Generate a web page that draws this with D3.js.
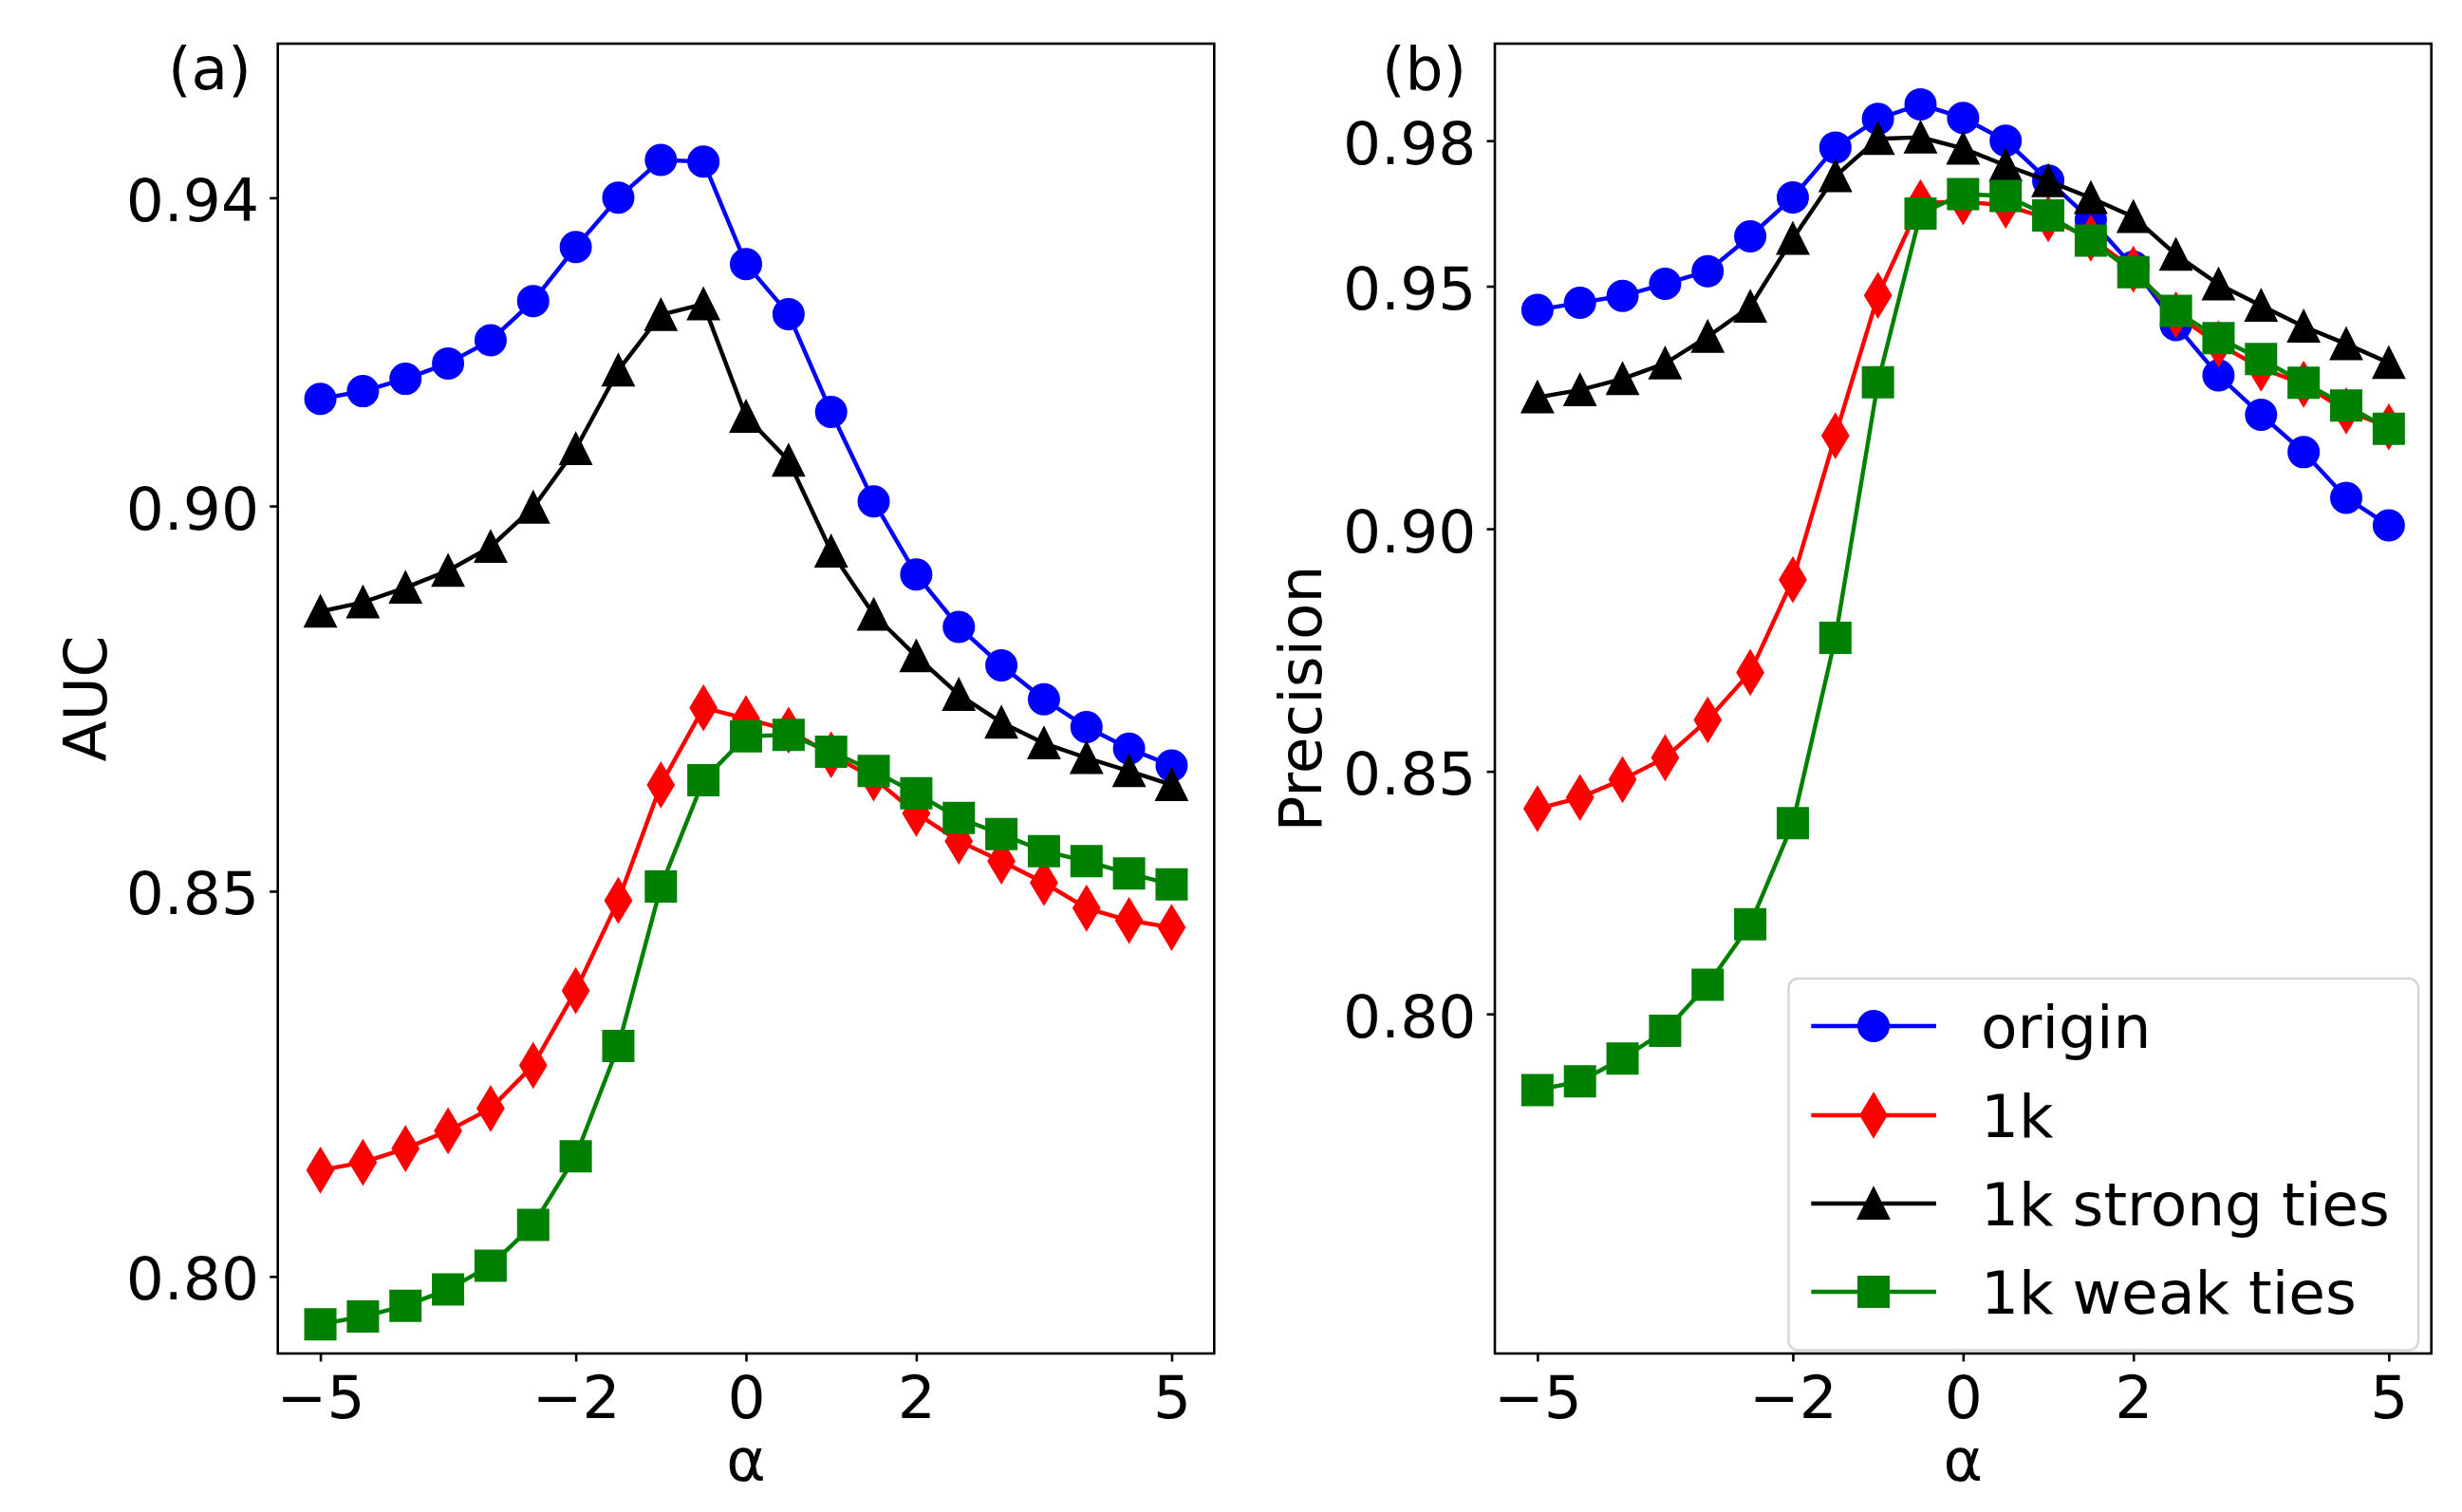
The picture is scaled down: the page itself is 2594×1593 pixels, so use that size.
<!DOCTYPE html>
<html>
<head>
<meta charset="utf-8">
<script src="https://cdn.jsdelivr.net/npm/d3@7"></script>
<style>
  html, body { margin: 0; padding: 0; background: #fff; }
  svg { display: block; }
  text { font-family: "DejaVu Sans", sans-serif; fill: #000; }
</style>
</head>
<body>
<svg id="chart" width="2594" height="1593"></svg>
<script>
// ---------------- data ----------------
const alphas = [-5, -4.5, -4, -3.5, -3, -2.5, -2, -1.5, -1, -0.5, 0, 0.5, 1, 1.5, 2, 2.5, 3, 3.5, 4, 4.5, 5];

const seriesNames = ["origin", "1k", "1k strong ties", "1k weak ties"];

const aucOrigin = [0.9139, 0.9149, 0.9165, 0.9185, 0.9215, 0.9266, 0.9336, 0.9400, 0.9449, 0.9447, 0.9314, 0.9249, 0.9122, 0.9006, 0.8911, 0.8843, 0.8793, 0.8749, 0.8713, 0.8685, 0.8663];
const auc1k = [0.8138, 0.8148, 0.8166, 0.8189, 0.8218, 0.8274, 0.8371, 0.8488, 0.8638, 0.8738, 0.8724, 0.8709, 0.8677, 0.8647, 0.8601, 0.8565, 0.8539, 0.8511, 0.8478, 0.8462, 0.8453];
const aucStrong = [0.8863, 0.8875, 0.8894, 0.8916, 0.8947, 0.8998, 0.9074, 0.9176, 0.9248, 0.9262, 0.9116, 0.9059, 0.8941, 0.8859, 0.8805, 0.8755, 0.8719, 0.8692, 0.8673, 0.8656, 0.8638];
const aucWeak = [0.7938, 0.7948, 0.7962, 0.7983, 0.8014, 0.8067, 0.8156, 0.8299, 0.8506, 0.8644, 0.8701, 0.8703, 0.8681, 0.8656, 0.8627, 0.8595, 0.8574, 0.8552, 0.8539, 0.8523, 0.8509];

const precOrigin = [0.9451, 0.9466, 0.9480, 0.9505, 0.9531, 0.9603, 0.9683, 0.9786, 0.9845, 0.9875, 0.9847, 0.9800, 0.9718, 0.9637, 0.9540, 0.9420, 0.9316, 0.9235, 0.9158, 0.9064, 0.9007];
const prec1k = [0.8423, 0.8446, 0.8483, 0.8528, 0.8606, 0.8704, 0.8895, 0.9192, 0.9481, 0.9672, 0.9674, 0.9667, 0.9639, 0.9599, 0.9535, 0.9441, 0.9381, 0.9331, 0.9298, 0.9243, 0.9210];
const precStrong = [0.9271, 0.9286, 0.9309, 0.9341, 0.9396, 0.9458, 0.9598, 0.9727, 0.9804, 0.9807, 0.9784, 0.9749, 0.9717, 0.9682, 0.9643, 0.9565, 0.9504, 0.9460, 0.9417, 0.9381, 0.9342];
const precWeak = [0.7843, 0.7861, 0.7908, 0.7965, 0.8060, 0.8185, 0.8393, 0.8775, 0.9302, 0.9650, 0.9690, 0.9686, 0.9646, 0.9594, 0.9529, 0.9449, 0.9393, 0.9350, 0.9301, 0.9254, 0.9206];

const xTicks = [-5, -2, 0, 2, 5];
const aucTicks = [0.80, 0.85, 0.90, 0.94];
const precTicks = [0.80, 0.85, 0.90, 0.95, 0.98];

// ---------------- styling ----------------
const colors = ["#0000ff", "#ff0000", "#000000", "#008000"];
const markers = ["circle", "thin_diamond", "triangle", "square"];
const MS = 31;          // marker size (px)
const MEW = 3;          // marker edge width
const LW = 4.4;         // line width
const FS = 63;          // font size
const FRAME_W = 2.6;
const TICK_LEN = 8.5;

function markerPath(kind, ms) {
  const h = ms / 2;
  if (kind === "circle") {
    return d3.symbol().type(d3.symbolCircle).size(Math.PI * h * h)();
  }
  if (kind === "square") {
    return `M${-h},${-h}L${h},${-h}L${h},${h}L${-h},${h}Z`;
  }
  if (kind === "triangle") {
    return `M0,${-h}L${h},${h}L${-h},${h}Z`;
  }
  if (kind === "thin_diamond") {
    const dy = ms * Math.SQRT1_2, dx = dy * 0.6;
    return `M0,${-dy}L${dx},0L0,${dy}L${-dx},0Z`;
  }
}

const svg = d3.select("#chart");

const panels = [
  { label: "(a)", ylabel: "AUC", series: [aucOrigin, auc1k, aucStrong, aucWeak],
    left: 292.7, right: 1279.3, yDomain: [0.79, 0.96], yTicks: aucTicks, ylabelX: 112, tagX: 177 },
  { label: "(b)", ylabel: "Precision", series: [precOrigin, prec1k, precStrong, precWeak],
    left: 1575, right: 2561.7, yDomain: [0.73, 1.0], yTicks: precTicks, ylabelX: 1392, tagX: 1456, legend: true }
];
const TOP = 46, BOTTOM = 1426;

panels.forEach(p => {
  const x = d3.scaleLinear().domain([-5.5, 5.5]).range([p.left, p.right]);
  const y = d3.scaleLinear().domain(p.yDomain).range([BOTTOM, TOP]);
  const g = svg.append("g");

  const clipId = "clip" + p.label.replace(/\W/g, "");
  svg.append("clipPath").attr("id", clipId).append("rect")
    .attr("x", p.left).attr("y", TOP).attr("width", p.right - p.left).attr("height", BOTTOM - TOP);

  const plot = g.append("g").attr("clip-path", `url(#${clipId})`);
  const line = d3.line().x((d, i) => x(alphas[i])).y(d => y(d));

  p.series.forEach((vals, si) => {
    const sg = plot.append("g");
    sg.append("path").datum(vals)
      .attr("d", line)
      .attr("fill", "none")
      .attr("stroke", colors[si])
      .attr("stroke-width", LW)
      .attr("stroke-linejoin", "round")
      .attr("stroke-linecap", "butt");
    sg.selectAll("path.m").data(vals).enter().append("path")
      .attr("class", "m")
      .attr("d", markerPath(markers[si], MS))
      .attr("transform", (d, i) => `translate(${x(alphas[i])},${y(d)})`)
      .attr("fill", colors[si])
      .attr("stroke", colors[si])
      .attr("stroke-width", MEW)
      .attr("stroke-linejoin", "miter");
  });

  // axes
  const xAxis = d3.axisBottom(x).tickValues(xTicks).tickSize(TICK_LEN).tickPadding(11)
    .tickFormat(d => d3.format("d")(d).replace("-", "\u2212"));
  const gx = g.append("g").attr("transform", `translate(0,${BOTTOM})`).call(xAxis);
  gx.select(".domain").remove();
  gx.selectAll(".tick line").attr("stroke", "#000").attr("stroke-width", FRAME_W);
  gx.selectAll(".tick text").attr("font-size", FS).attr("dy", null).attr("y", 68)
    .attr("font-family", "DejaVu Sans").attr("fill", "#000");

  const yAxis = d3.axisLeft(y).tickValues(p.yTicks).tickSize(TICK_LEN).tickPadding(11)
    .tickFormat(d3.format(".2f"));
  const gy = g.append("g").attr("transform", `translate(${p.left},0)`).call(yAxis);
  gy.select(".domain").remove();
  gy.selectAll(".tick line").attr("stroke", "#000").attr("stroke-width", FRAME_W);
  gy.selectAll(".tick text").attr("font-size", FS).attr("dy", null).attr("y", 24)
    .attr("x", -19.7)
    .attr("font-family", "DejaVu Sans").attr("fill", "#000");

  // frame
  g.append("rect").attr("x", p.left).attr("y", TOP)
    .attr("width", p.right - p.left).attr("height", BOTTOM - TOP)
    .attr("fill", "none").attr("stroke", "#000").attr("stroke-width", FRAME_W);

  // labels
  g.append("text").attr("x", (p.left + p.right) / 2).attr("y", 1560)
    .attr("text-anchor", "middle").attr("font-size", FS).text("\u03b1");
  g.append("text").attr("transform", `translate(${p.ylabelX},${(TOP + BOTTOM) / 2}) rotate(-90)`)
    .attr("text-anchor", "middle").attr("font-size", FS).text(p.ylabel);
  g.append("text").attr("x", p.tagX).attr("y", 94).attr("font-size", FS).text(p.label);

  if (p.legend) {
    const lg = g.append("g");
    lg.append("rect").attr("x", 1884.5).attr("y", 1031).attr("width", 663.5).attr("height", 391.5)
      .attr("rx", 10).attr("ry", 10)
      .attr("fill", "#fff").attr("fill-opacity", 0.8)
      .attr("stroke", "#d5d5d5").attr("stroke-width", 2.4);
    const rowY = [1081, 1175, 1268, 1361];
    seriesNames.forEach((name, si) => {
      const cy = rowY[si];
      lg.append("line").attr("x1", 1908.3).attr("x2", 2040).attr("y1", cy).attr("y2", cy)
        .attr("stroke", colors[si]).attr("stroke-width", LW);
      lg.append("path").attr("d", markerPath(markers[si], MS))
        .attr("transform", `translate(1974,${cy})`)
        .attr("fill", colors[si]).attr("stroke", colors[si]).attr("stroke-width", MEW);
      lg.append("text").attr("x", 2087).attr("y", cy + 23).attr("font-size", FS).text(name);
    });
  }
});
</script>
</body>
</html>
